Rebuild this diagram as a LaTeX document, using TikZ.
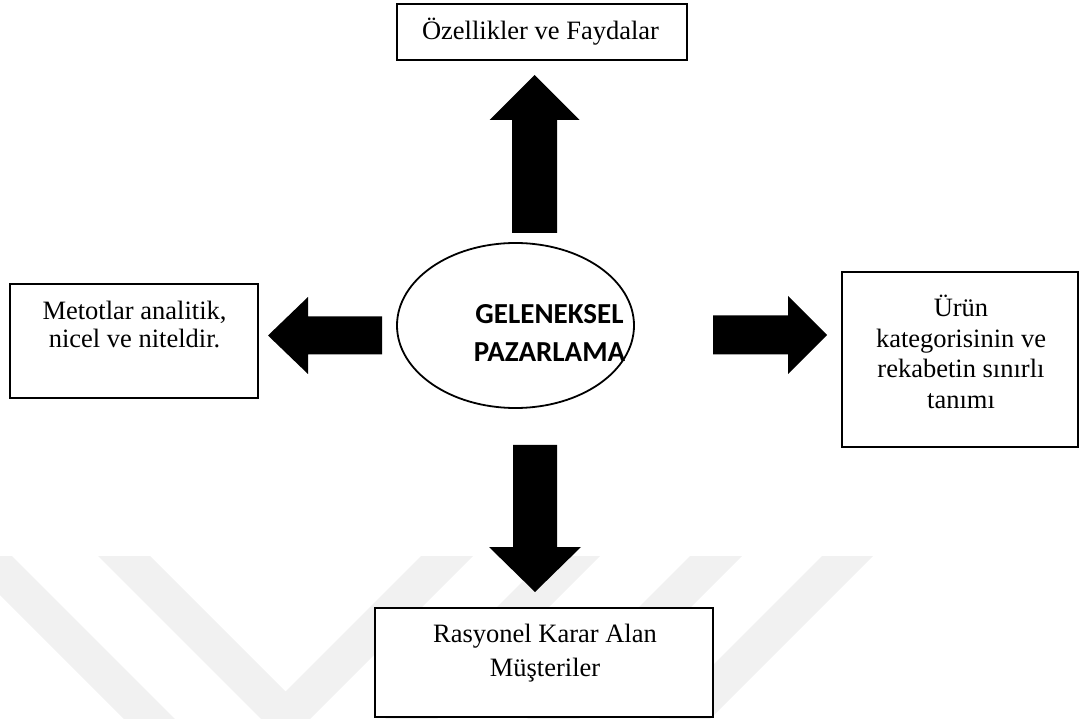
\documentclass[tikz,border=0pt]{standalone}
\usepackage{fontspec}
\setmainfont{Liberation Serif}
\newfontfamily\carlito{Carlito}
\usetikzlibrary{calc,shapes.geometric}

\definecolor{wmgray}{RGB}{241,241,241}

% filled block arrow from #1 (base) to #2 (tip):
% #3 half shaft width, #4 half head width, #5 head length
\newcommand\blockarrow[5]{%
  \coordinate (ba-neck) at ($(#2)!#5!(#1)$);
  \fill ($(#1)!#3!90:(#2)$) -- ($(ba-neck)!#3!90:(#2)$) -- ($(ba-neck)!#4!90:(#2)$)
    -- (#2) -- ($(ba-neck)!#4!-90:(#2)$) -- ($(ba-neck)!#3!-90:(#2)$)
    -- ($(#1)!#3!-90:(#2)$) -- cycle;
}

\tikzset{
  box/.style={draw, line width=1.7pt, fill=white, inner sep=0pt},
  txt/.style={inner sep=0pt, align=center},
  wm/.style={fill=wmgray},
}

\begin{document}
\begin{tikzpicture}[x=1pt,y=-1pt]
\useasboundingbox (0,0) rectangle (1080,719);

% faint background stripes
\begin{scope}
  \clip (0,0) rectangle (1080,719);
  \fill[wm] (-39,556) -- (12,556) -- (175,719) -- (124,719) -- cycle;
  \fill[wm] (98,556) -- (150,556) -- (285.5,691.5) -- (421,556) -- (473,556)
            -- (310,719) -- (261,719) -- cycle;
  \fill[wm] (548,556) -- (600,556) -- (437,719) -- (385,719) -- cycle;
  \fill[wm] (690,556) -- (742,556) -- (579,719) -- (527,719) -- cycle;
  \fill[wm] (822,556) -- (873,556) -- (710,719) -- (659,719) -- cycle;
\end{scope}

% outer boxes
\node[box, minimum width=290pt, minimum height=56pt] (top) at (542,32) {};
\node[box, minimum width=248pt, minimum height=114pt] (left) at (134,341) {};
\node[box, minimum width=236pt, minimum height=175pt] (right) at (960,359.5) {};
\node[box, minimum width=338pt, minimum height=109pt] (bottom) at (544,662.5) {};

\begin{scope}[every node/.append style={font=\fontsize{26.5}{30}\selectfont}]
  \node[txt, anchor=base] (toptext) at (540.5,39.3) {Özellikler ve Faydalar};
  \node[txt, font=\fontsize{26.5}{28}\selectfont] (lefttext) at (134.5,324)
    {Metotlar analitik,\\nicel ve niteldir.};
  \node[txt, font=\fontsize{26.5}{30.5}\selectfont] (righttext) at (961,352)
    {Ürün\\kategorisinin ve\\rekabetin sınırlı\\tanımı};
  \node[txt, font=\fontsize{26.5}{34}\selectfont] (bottomtext) at (545,653.5)
    {Rasyonel Karar Alan\\Müşteriler};
\end{scope}

% central ellipse
\node[ellipse, draw, line width=1.8pt, fill=white, minimum width=237pt,
      minimum height=165pt, inner sep=0pt] (center) at (515.5,325.5) {};
\node[txt, font=\carlito\bfseries\fontsize{29}{38}\selectfont] (centertext)
  at (549.5,333) {GELENEKSEL\\PAZARLAMA};

% block arrows leaving the ellipse
\coordinate (upbase) at (534.5,233);   \coordinate (uptip) at (534.5,75);
\coordinate (lbase) at (382,335.5);    \coordinate (ltip) at (268,335.5);
\coordinate (rbase) at (713,335);      \coordinate (rtip) at (827,335);
\coordinate (dbase) at (535,445);      \coordinate (dtip) at (535,592);
\blockarrow{upbase}{uptip}{22.5pt}{45pt}{45pt}
\blockarrow{lbase}{ltip}{19pt}{38.5pt}{40pt}
\blockarrow{rbase}{rtip}{19.5pt}{39pt}{39pt}
\blockarrow{dbase}{dtip}{22pt}{46pt}{45pt}
\end{tikzpicture}
\end{document}
